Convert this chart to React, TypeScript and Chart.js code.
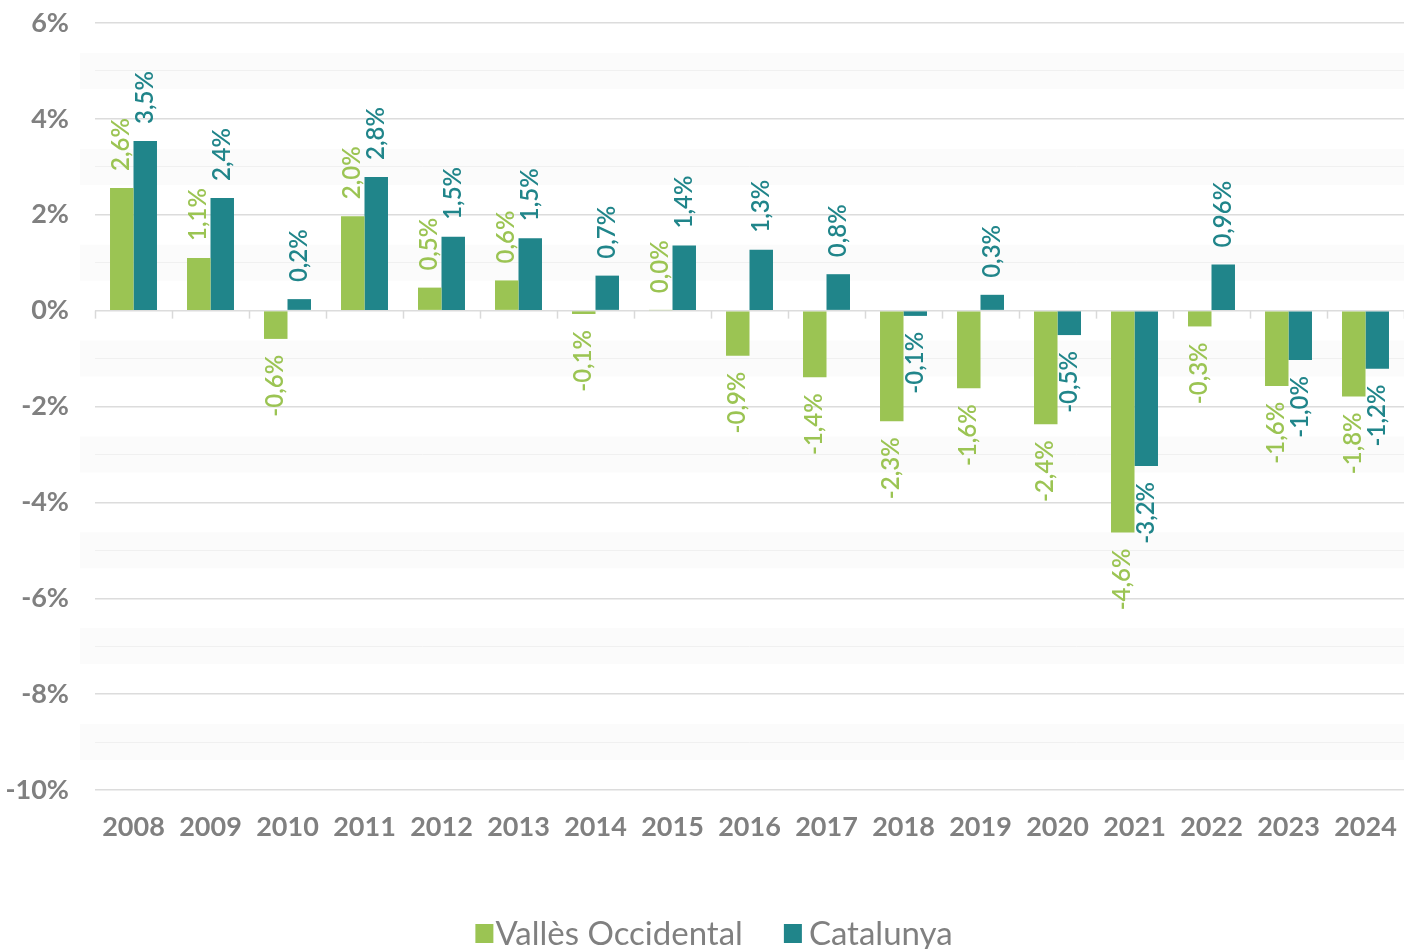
import React, { useEffect, useRef } from "react";
import { Chart, registerables } from "chart.js";

Chart.register(...registerables);

const years = ["2008", "2009", "2010", "2011", "2012", "2013", "2014", "2015", "2016", "2017", "2018", "2019", "2020", "2021", "2022", "2023", "2024"];
const vallesValues = [2.56, 1.1, -0.59, 1.97, 0.48, 0.63, -0.07, 0.01, -0.94, -1.39, -2.31, -1.62, -2.37, -4.63, -0.33, -1.57, -1.79];
const catalunyaValues = [3.54, 2.35, 0.24, 2.79, 1.54, 1.51, 0.73, 1.36, 1.27, 0.76, -0.11, 0.33, -0.51, -3.24, 0.96, -1.03, -1.21];
const vallesLabels = ["2,6%", "1,1%", "-0,6%", "2,0%", "0,5%", "0,6%", "-0,1%", "0,0%", "-0,9%", "-1,4%", "-2,3%", "-1,6%", "-2,4%", "-4,6%", "-0,3%", "-1,6%", "-1,8%"];
const catalunyaLabels = ["3,5%", "2,4%", "0,2%", "2,8%", "1,5%", "1,5%", "0,7%", "1,4%", "1,3%", "0,8%", "-0,1%", "0,3%", "-0,5%", "-3,2%", "0,96%", "-1,0%", "-1,2%"];
const seriesNames = ["Vallès Occidental", "Catalunya"];

const GREEN = "#9bc453";
const TEAL = "#20858a";
const GREY = "#808080";
const pointLabels = [vallesLabels, catalunyaLabels];

const decorPlugin = {
  id: "decor",
  beforeDraw(chart: any) {
    const { ctx, chartArea, scales } = chart;
    const y = scales.y;
    ctx.save();
    ctx.fillStyle = "#fbfbfb";
    for (let v = -9; v <= 5; v += 2) {
      const py = y.getPixelForValue(v);
      ctx.fillRect(chartArea.left - 15, py - 18, chartArea.right - chartArea.left + 15, 36);
    }
    ctx.restore();
  },
  afterDatasetsDraw(chart: any) {
    const { ctx, chartArea, scales } = chart;
    const y = scales.y;
    const y0 = y.getPixelForValue(0);
    ctx.save();
    ctx.strokeStyle = "#d9d9d9";
    ctx.lineWidth = 1.5;
    const step = (chartArea.right - chartArea.left) / years.length;
    for (let k = 0; k <= years.length; k++) {
      const px = Math.round(chartArea.left + k * step) + 0.5;
      ctx.beginPath();
      ctx.moveTo(px, y0);
      ctx.lineTo(px, y0 + 8);
      ctx.stroke();
    }
    ctx.font = "600 24px Lato";
    ctx.textBaseline = "middle";
    chart.data.datasets.forEach((ds: any, di: number) => {
      const meta = chart.getDatasetMeta(di);
      meta.data.forEach((bar: any, i: number) => {
        const v = ds.data[i];
        const text = pointLabels[di][i];
        ctx.save();
        ctx.translate(bar.x, v >= 0 ? bar.y - 17 : bar.y + 16);
        ctx.rotate(-Math.PI / 2);
        ctx.textAlign = v >= 0 ? "left" : "right";
        ctx.fillStyle = ds.backgroundColor;
        ctx.fillText(text, 0, 0);
        ctx.restore();
      });
    });
    ctx.restore();
  },
  afterDraw(chart: any) {
    const { ctx } = chart;
    ctx.save();
    ctx.font = "33px Lato";
    ctx.textBaseline = "alphabetic";
    ctx.textAlign = "left";
    const colors = [GREEN, TEAL];
    const gaps = [2, 7];
    const w0 = 18 + gaps[0] + ctx.measureText(seriesNames[0]).width;
    const w1 = 18 + gaps[1] + ctx.measureText(seriesNames[1]).width;
    const spacing = 41;
    let sx = chart.width / 2 + 12 - (w0 + spacing + w1) / 2;
    const by = 924;
    seriesNames.forEach((name, i) => {
      ctx.fillStyle = colors[i];
      ctx.fillRect(sx, by, 18, 19);
      ctx.fillStyle = GREY;
      ctx.fillText(name, sx + 18 + gaps[i], 945);
      sx += (i === 0 ? w0 : w1) + spacing;
    });
    ctx.restore();
  },
};

export default function App() {
  const ref = useRef<HTMLCanvasElement | null>(null);
  useEffect(() => {
    if (!ref.current) return;
    const chart = new Chart(ref.current, {
      type: "bar",
      data: {
        labels: years,
        datasets: [
          { label: seriesNames[0], data: vallesValues, backgroundColor: GREEN, borderWidth: 0, categoryPercentage: 0.61, barPercentage: 1 },
          { label: seriesNames[1], data: catalunyaValues, backgroundColor: TEAL, borderWidth: 0, categoryPercentage: 0.61, barPercentage: 1 },
        ],
      },
      options: {
        responsive: false,
        animation: false,
        layout: { padding: { top: 23, right: 0, left: 0, bottom: 0 } },
        plugins: { legend: { display: false }, tooltip: { enabled: false } },
        scales: {
          x: {
            grid: { display: false },
            border: { display: false },
            ticks: { color: GREY, font: { family: "Lato", size: 27, weight: "bold" }, padding: 13, maxRotation: 0, autoSkip: false },
            afterFit: (s: any) => {
              s.height = 159;
              s.paddingLeft = 0;
              s.paddingRight = 0;
            },
          },
          y: {
            min: -10,
            max: 6,
            border: { display: false },
            grid: {
              drawTicks: false,
              color: (c: any) => (Math.round(c.tick.value) % 2 === 0 ? "#dcdcdc" : "#f0f0f0"),
              lineWidth: (c: any) => (Math.round(c.tick.value) % 2 === 0 ? 1.5 : 1),
            },
            ticks: {
              stepSize: 1,
              padding: 26,
              color: GREY,
              font: { family: "Lato", size: 27, weight: "bold" },
              callback: (v: any) => (Math.round(v) % 2 === 0 ? `${v}%` : ""),
            },
            afterFit: (s: any) => {
              s.width = 95;
              s.paddingTop = 0;
              s.paddingBottom = 0;
            },
          },
        },
      },
      plugins: [decorPlugin],
    });
    return () => chart.destroy();
  }, []);
  return (
    <div style={{ position: "absolute", left: 0, top: 0, width: 1404, height: 949, background: "#fff" }}>
      <canvas ref={ref} width={1404} height={949} />
    </div>
  );
}
